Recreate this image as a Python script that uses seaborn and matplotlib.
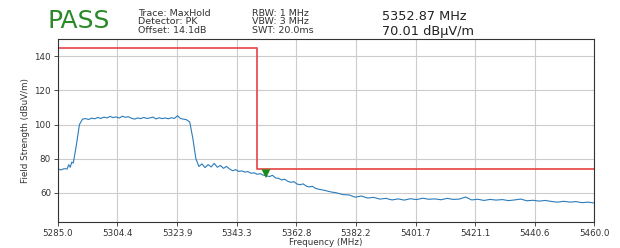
import numpy as np
import pandas as pd
import matplotlib
matplotlib.use("Agg")
import matplotlib.pyplot as plt
import seaborn as sns

# ---- data ----
freq = [5285, 5286, 5287, 5288, 5288.5, 5289, 5289.5, 5290, 5291, 5292,
        5293, 5294, 5295, 5296, 5297, 5298, 5299, 5300, 5301, 5302,
        5303, 5304, 5305, 5306, 5307, 5308, 5309, 5310, 5311, 5312,
        5313, 5314, 5315, 5316, 5317, 5318, 5319, 5320, 5321, 5322,
        5323, 5324, 5325, 5326, 5327, 5328, 5329, 5330, 5331, 5332,
        5333, 5334, 5335, 5336, 5337, 5338, 5339, 5340, 5341, 5342,
        5343, 5344, 5345, 5346, 5347, 5348, 5349, 5350, 5351, 5352,
        5353, 5354, 5355, 5356, 5357, 5358, 5359, 5360, 5361, 5362,
        5363, 5364, 5365, 5366, 5367, 5368, 5369, 5370, 5372, 5374,
        5376, 5378, 5380, 5382, 5384, 5386, 5388, 5390, 5392, 5394,
        5396, 5398, 5400, 5402, 5404, 5406, 5408, 5410, 5412, 5414,
        5416, 5418, 5420, 5422, 5424, 5426, 5428, 5430, 5432, 5434,
        5436, 5438, 5440, 5442, 5444, 5446, 5448, 5450, 5452, 5454,
        5456, 5458, 5460]
level = [74.0, 73.5, 74.2, 74.0, 76.5, 75.0, 78.0, 77.5, 88.0, 100.0,
         103.2, 103.5, 103.0, 103.8, 103.4, 104.2, 103.6, 104.4, 103.9, 104.8,
         104.1, 104.5, 103.8, 104.9, 104.3, 104.6, 103.7, 103.2, 103.9, 103.5,
         104.2, 103.6, 103.9, 104.4, 103.3, 104.0, 103.5, 103.9, 103.4, 104.0,
         103.6, 105.2, 103.5, 103.2, 102.8, 101.5, 92.0, 80.0, 75.5, 77.0,
         74.8, 76.6, 75.2, 77.3, 75.0, 76.1, 74.4, 75.5, 74.0, 73.0,
         73.6, 72.6, 72.9, 72.2, 72.5, 71.5, 71.8, 70.9, 71.3, 70.4,
         70.0, 69.6, 70.3, 68.8, 68.5, 67.6, 68.0, 66.8, 66.2, 66.6,
         65.2, 64.8, 65.3, 64.0, 63.5, 63.9, 62.7, 62.2, 61.5, 60.6,
         60.0, 59.0, 58.8, 57.5, 58.2, 57.0, 57.4, 56.4, 56.8, 55.9,
         56.5, 55.8, 56.6, 56.1, 56.9, 56.3, 56.5, 56.0, 56.8, 56.2,
         56.4, 57.6, 55.9, 56.3, 55.6, 56.2, 55.8, 56.1, 55.5, 55.9,
         56.4, 55.4, 55.7, 55.2, 55.6, 55.0, 54.6, 55.1, 54.6, 54.9,
         54.3, 54.6, 54.1]

limit_freq = [5285.0, 5350.0, 5350.0, 5460.0]
limit_level = [145.0, 145.0, 74.0, 74.0]

marker_freq = [5352.87]
marker_level = [70.01]

xtick_labels = ["5285.0", "5304.4", "5323.9", "5343.3", "5362.8",
                "5382.2", "5401.7", "5421.1", "5440.6", "5460.0"]
ytick_values = [60, 80, 100, 120, 140]

# ---- plot ----
sns.set_theme(style="ticks")
plt.rcParams['font.family'] = ['DejaVu Sans']

fig = plt.figure(figsize=(6.2, 2.48), dpi=100)
ax = fig.add_axes([0.0935, 0.105, 0.865, 0.737])

trace_df = pd.DataFrame({"f": freq, "v": level})
limit_df = pd.DataFrame({"f": limit_freq, "v": limit_level})

sns.lineplot(data=limit_df, x="f", y="v", ax=ax, color="#e8504f", lw=1.3,
             sort=False, estimator=None)
sns.lineplot(data=trace_df, x="f", y="v", ax=ax, color="#2b7bba", lw=0.8,
             estimator=None)
sns.scatterplot(x=marker_freq, y=[m + 1.2 for m in marker_level], ax=ax,
                marker="v", color="#1a8a1a", s=40, edgecolor="none", zorder=5)

ax.set_xlim(5285, 5460)
ax.set_ylim(43, 150)
xt = [float(s) for s in xtick_labels]
ax.set_xticks(xt)
ax.set_xticklabels(xtick_labels)
ax.set_yticks(ytick_values)
ax.tick_params(labelsize=6.3, colors="#333333", length=3, width=0.6, pad=2)
ax.grid(True, color="#cccccc", lw=0.8)
for s in ax.spines.values():
    s.set_color("#333333")
    s.set_linewidth(0.8)
ax.set_xlabel("Frequency (MHz)", fontsize=6.3, labelpad=0, color="#333333")
ax.set_ylabel("Field Strength (dBuV/m)", fontsize=6.3, labelpad=3, color="#333333")

W, H = 620, 248
def fx(px): return px / W
def fy(py): return 1 - py / H

fig.text(fx(47), fy(21), "PASS", fontsize=18, color="#2a8a2a", va="center", ha="left")
fig.text(fx(138), fy(22), "Trace: MaxHold\nDetector: PK\nOffset: 14.1dB",
         fontsize=6.8, va="center", ha="left", linespacing=0.95, color="#333333")
fig.text(fx(252), fy(22), "RBW: 1 MHz\nVBW: 3 MHz\nSWT: 20.0ms",
         fontsize=6.8, va="center", ha="left", linespacing=0.95, color="#333333")
fig.text(fx(382), fy(16), "5352.87 MHz", fontsize=9.3, va="center", ha="left", color="#222222")
fig.text(fx(382), fy(31), "70.01 dBµV/m", fontsize=9.3, va="center", ha="left", color="#222222")

fig.savefig("out.png", dpi=100)
